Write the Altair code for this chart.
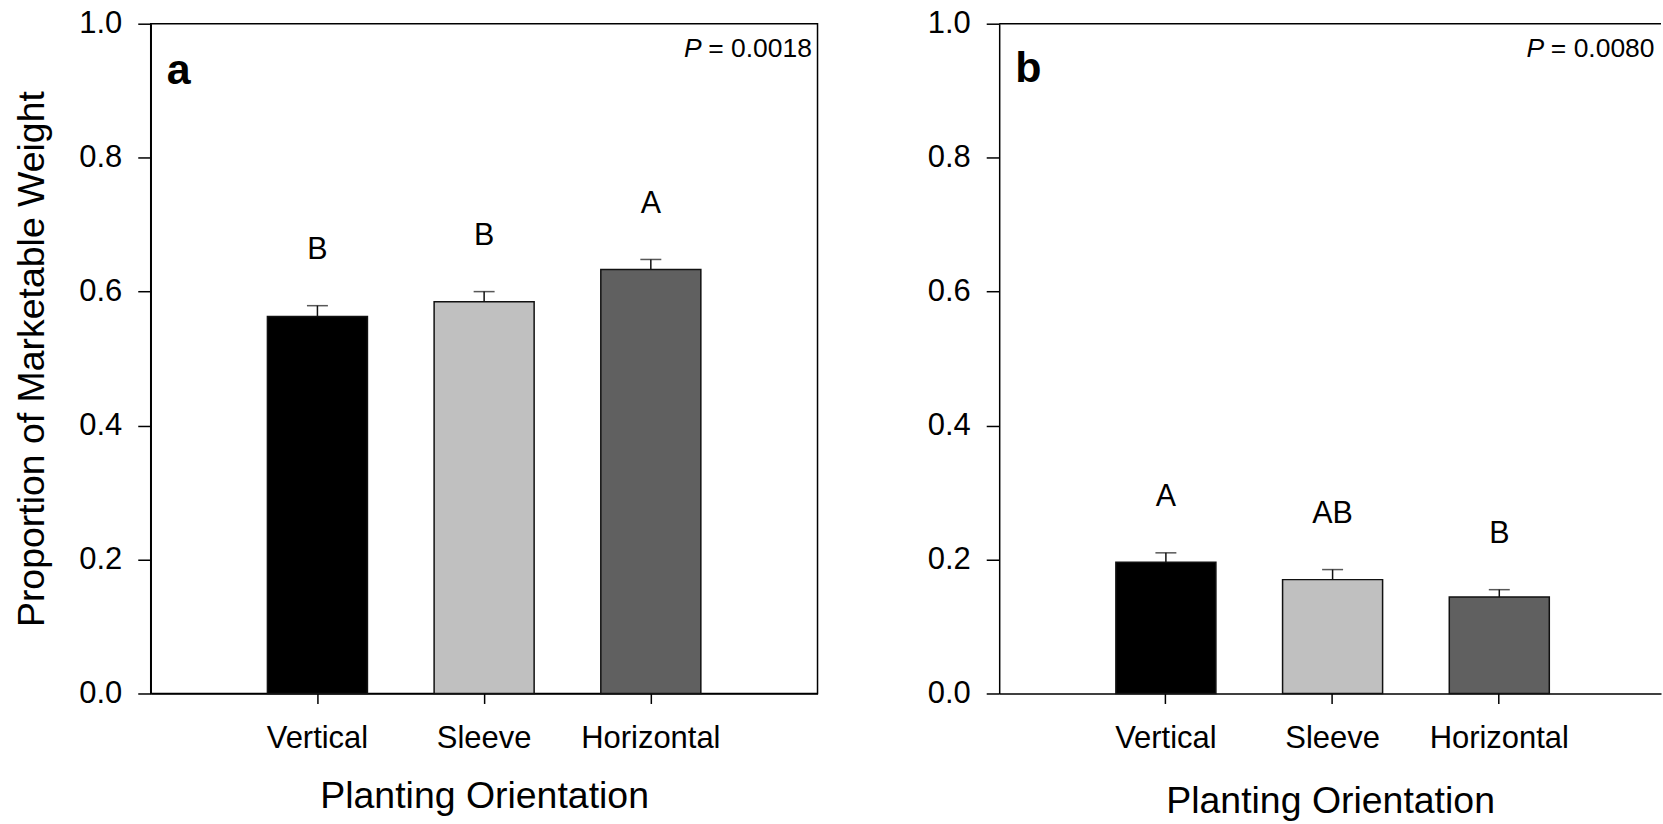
import altair as alt
import pandas as pd

FONT = "Liberation Sans"

orientations = ["Vertical", "Sleeve", "Horizontal"]
bar_fills = ["#000000", "#c0c0c0", "#606060"]

# Panel a
mean_a = [0.563, 0.585, 0.633]
se_a = [0.016, 0.015, 0.015]
letters_a = ["B", "B", "A"]
p_a = "0.0018"

# Panel b
mean_b = [0.196, 0.170, 0.144]
se_b = [0.014, 0.015, 0.011]
letters_b = ["A", "AB", "B"]
p_b = "0.0080"

y_ticks = [0.0, 0.2, 0.4, 0.6, 0.8, 1.0]

PLOT_H = 671


def panel(means, ses, letters, tag, pval, outer, align, y_title, tag_y, p_right, x_title_pad):
    df = pd.DataFrame({
        "orientation": orientations,
        "mean": means,
        "se": ses,
        "letter": letters,
    })
    df["upper"] = df["mean"] + df["se"]

    x = alt.X(
        "orientation:N",
        sort=orientations,
        scale=alt.Scale(paddingInner=0.4, paddingOuter=outer, align=align),
        axis=alt.Axis(title="Planting Orientation", labelAngle=0, tickSize=10,
                      labelPadding=20, titlePadding=x_title_pad),
    )
    y_scale = alt.Scale(domain=[0, 1], nice=False, zero=True)
    y_axis = alt.Axis(values=y_ticks, format=".1f", tickSize=13, labelPadding=16,
                      titlePadding=27, title=y_title if y_title else None, grid=False)

    base = alt.Chart(df)
    bars = base.mark_bar(stroke="#111111", strokeWidth=1.5).encode(
        x=x,
        y=alt.Y("mean:Q", scale=y_scale, axis=y_axis),
        color=alt.Color("orientation:N", scale=alt.Scale(domain=orientations, range=bar_fills),
                        legend=None),
    )
    stems = base.mark_rule(color="#111111", strokeWidth=1.5).encode(
        x=x, y=alt.Y("mean:Q", scale=y_scale), y2="upper:Q"
    )
    caps = base.mark_tick(color="#111111", orient="horizontal", size=21, thickness=1.5).encode(
        x=x, y=alt.Y("upper:Q", scale=y_scale)
    )
    marks = base.mark_text(font=FONT, fontSize=30.5, dy=-47, baseline="alphabetic",
                           color="black").encode(
        x=x, y=alt.Y("upper:Q", scale=y_scale), text="letter:N"
    )

    label_df = pd.DataFrame({"tag": [tag], "p": ["P"], "val": ["= " + pval]})
    lab = alt.Chart(label_df)
    tag_text = lab.mark_text(font=FONT, fontSize=43, fontWeight="bold", align="left",
                             baseline="alphabetic", color="black").encode(
        x=alt.value(16), y=alt.value(tag_y), text="tag:N"
    )
    p_italic = lab.mark_text(font=FONT, fontSize=26.5, fontStyle="italic", align="right",
                             baseline="alphabetic", color="black").encode(
        x=alt.value(p_right - 110.5), y=alt.value(33.7), text="p:N"
    )
    p_value = lab.mark_text(font=FONT, fontSize=26.5, align="right", baseline="alphabetic",
                            color="black").encode(
        x=alt.value(p_right), y=alt.value(33.7), text="val:N"
    )

    return [bars, stems, caps, marks, tag_text, p_italic, p_value]


layers_a = panel(mean_a, se_a, letters_a, "a", p_a, 0.7, 0.5,
                 "Proportion of Marketable Weight", 60, 662.4, 24)
left = alt.layer(*layers_a).properties(
    width=668, height=PLOT_H,
    view=alt.ViewBackground(stroke="black", strokeWidth=1.5),
)

layers_b = panel(mean_b, se_b, letters_b, "b", p_b, 0.68503, 0.5109, "", 58, 656.5, 29)
top_line = alt.Chart(pd.DataFrame({"top": [1.0]})).mark_rule(color="black", strokeWidth=1.5).encode(
    y=alt.Y("top:Q", scale=alt.Scale(domain=[0, 1], nice=False))
)
right = alt.layer(*layers_b, top_line).properties(width=663, height=PLOT_H)

chart = alt.hconcat(left, right, spacing=108).properties(
    padding={"left": 13, "top": 6, "right": 0, "bottom": 0},
    background="white",
).configure_view(
    stroke="transparent"
).configure_axis(
    labelFont=FONT,
    titleFont=FONT,
    labelFontSize=31,
    titleFontSize=37.5,
    titleFontWeight="normal",
    labelColor="black",
    titleColor="black",
    domainColor="black",
    tickColor="black",
    domainWidth=1.5,
    tickWidth=1.5,
)

chart.save("out.html", embed_options={"renderer": "svg", "actions": False})
